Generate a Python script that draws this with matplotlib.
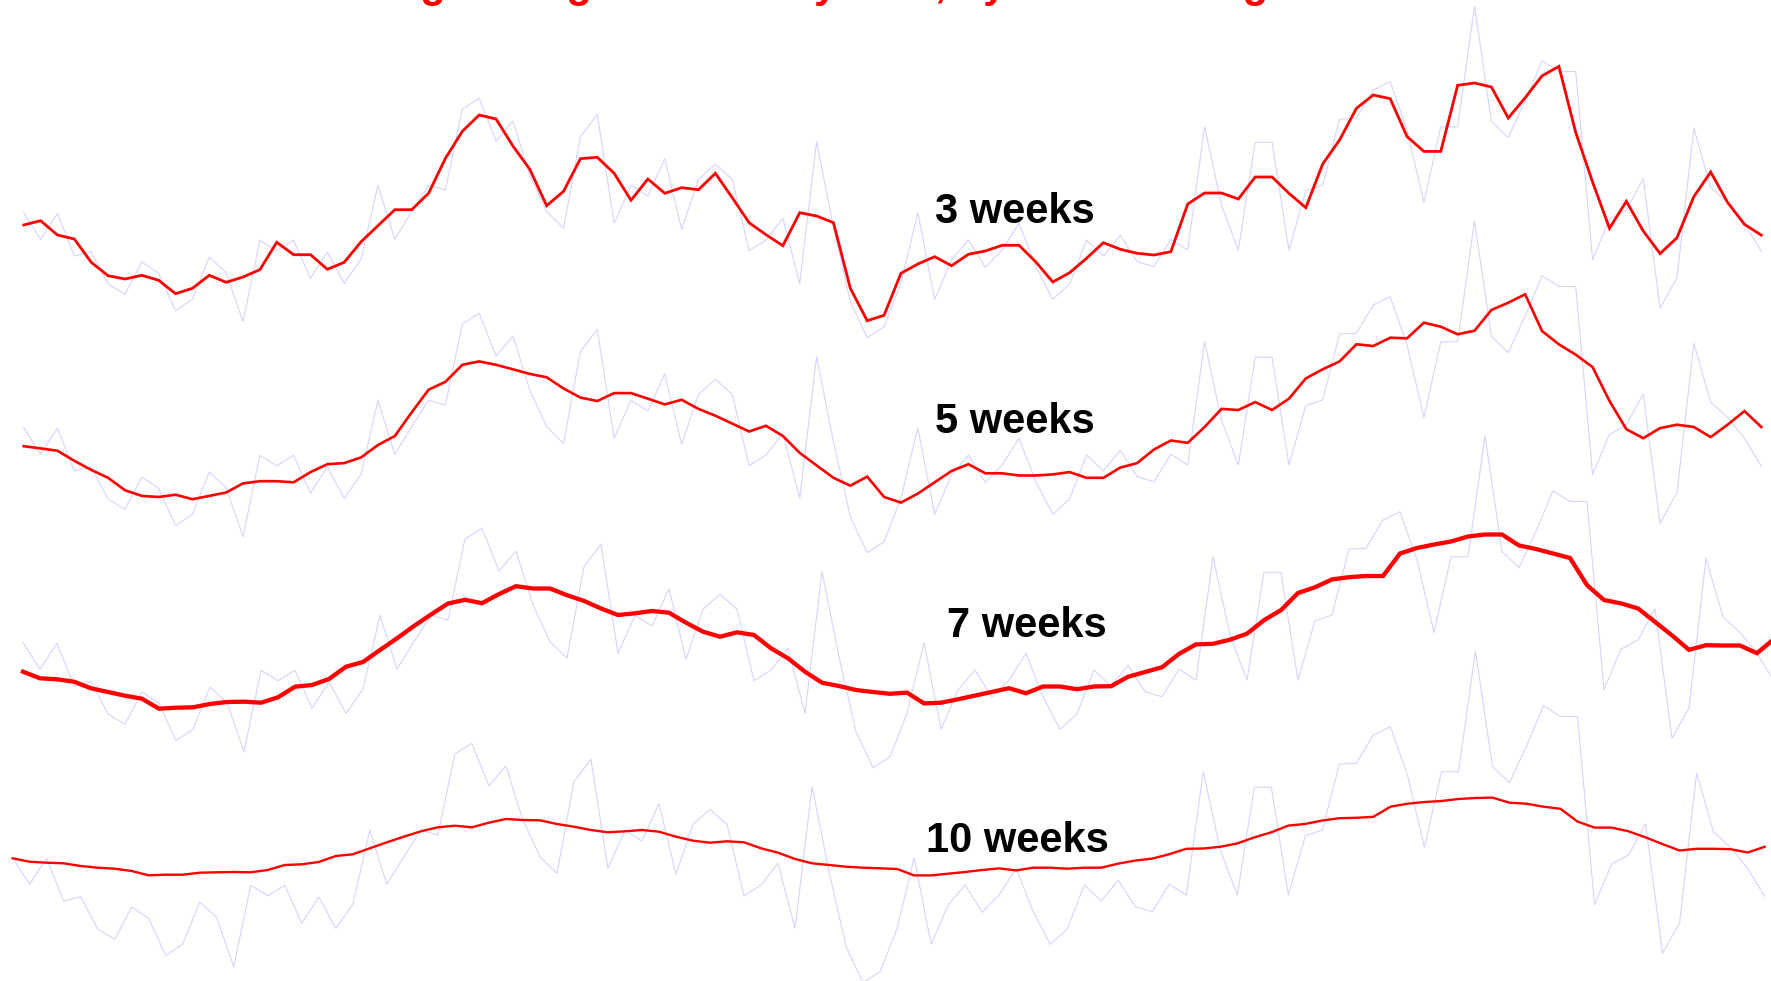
import numpy as np
import matplotlib
matplotlib.use("Agg")
import matplotlib.pyplot as plt

# weekly series (same raw data behind every panel)
weekly = [127.3, 100.7, 126.7, 84.0, 88.3, 56.0, 45.7, 78.0, 66.7, 29.3,
          40.7, 83.0, 67.3, 18.3, 99.7, 89.3, 99.7, 61.7, 88.0, 56.7,
          80.7, 154.7, 100.7, 128.3, 154.7, 150.0, 231.0, 241.7, 199.0, 219.0,
          165.0, 128.3, 111.7, 203.3, 225.7, 116.7, 154.7, 144.0, 181.3, 110.7,
          160.7, 175.7, 160.7, 89.3, 100.0, 121.7, 56.7, 198.3, 113.3, 38.3,
          2.3, 13.3, 56.7, 127.3, 40.7, 80.0, 100.0, 72.7, 90.0, 116.7,
          73.3, 40.7, 56.0, 100.0, 84.0, 104.7, 78.3, 73.3, 100.7, 90.0,
          213.3, 135.0, 90.0, 197.7, 197.7, 90.0, 149.3, 155.0, 221.0, 221.7,
          250.0, 258.3, 210.0, 137.6, 213.2, 213.2, 333.9, 218.6, 202.4, 238.8,
          279.3, 268.5, 268.5, 80.3, 120.8, 129.9, 161.2, 31.7, 62.1, 211.8,
          152.8, 137.6, 116.7, 88.7]

ma3 = [115.0, 119.3, 105.0, 101.0, 77.7, 64.3, 61.0, 64.7, 59.7, 46.3,
       51.7, 64.7, 57.7, 63.0, 70.3, 97.7, 85.3, 85.3, 70.7, 77.7,
       98.3, 114.3, 130.3, 130.3, 146.7, 181.7, 208.7, 225.0, 221.0, 194.0,
       170.7, 134.3, 148.7, 181.3, 182.7, 166.7, 139.7, 161.0, 146.7, 152.3,
       150.3, 166.7, 142.3, 117.3, 105.3, 94.3, 127.3, 124.0, 117.3, 51.7,
       19.3, 24.7, 66.7, 76.0, 83.3, 74.3, 85.7, 89.0, 94.7, 94.7,
       78.0, 58.0, 67.3, 81.7, 97.3, 90.7, 86.7, 85.0, 88.3, 136.0,
       147.0, 147.0, 141.0, 163.0, 163.0, 146.7, 132.3, 176.0, 200.0, 231.7,
       245.0, 241.3, 203.4, 188.6, 188.6, 254.7, 257.0, 253.0, 222.0, 242.2,
       264.1, 273.6, 207.5, 157.9, 111.7, 138.7, 109.0, 86.4, 102.2, 143.4,
       168.0, 137.6, 115.7, 104.9]

ma5 = [108.8, 106.6, 104.3, 94.2, 85.1, 77.2, 64.8, 59.1, 58.0, 60.3,
       55.8, 59.1, 62.5, 71.6, 73.8, 73.8, 72.7, 82.9, 90.8, 91.9,
       97.6, 110.0, 119.0, 142.7, 165.3, 173.2, 190.2, 193.6, 190.2, 185.7,
       181.1, 177.7, 166.5, 157.4, 154.0, 161.9, 161.9, 156.3, 150.6, 155.2,
       146.1, 139.3, 131.4, 123.5, 129.2, 119.0, 102.1, 89.6, 77.2, 69.3,
       78.4, 58.0, 52.4, 61.4, 72.7, 84.0, 90.8, 81.7, 81.7, 79.5,
       79.5, 80.6, 82.9, 77.2, 77.2, 87.4, 91.9, 105.5, 114.5, 112.2,
       128.0, 146.1, 145.0, 152.9, 145.0, 156.3, 176.6, 185.7, 193.6, 210.7,
       209.0, 217.3, 216.7, 232.3, 228.3, 220.7, 224.3, 245.0, 252.3, 260.7,
       224.0, 210.7, 200.3, 187.9, 154.0, 125.8, 116.8, 126.9, 130.3, 128.0,
       117.9, 130.3, 143.9, 128.0]

ma7 = [98.3, 91.7, 90.7, 88.3, 81.7, 78.0, 74.3, 71.3, 61.3, 62.3,
       62.7, 66.0, 68.0, 68.3, 67.3, 72.7, 83.3, 85.0, 91.0, 103.3,
       108.0, 120.0, 131.7, 144.0, 155.5, 166.5, 170.2, 166.8, 175.9, 183.8,
       181.5, 181.5, 174.8, 169.1, 161.5, 155.0, 156.7, 159.0, 157.3, 147.3,
       138.3, 133.3, 137.7, 135.0, 121.7, 111.7, 98.3, 87.3, 84.0, 80.0,
       78.0, 76.2, 77.4, 66.6, 67.3, 70.7, 74.4, 78.1, 81.8, 76.7,
       83.5, 83.5, 80.8, 83.5, 83.8, 93.2, 98.0, 102.7, 116.1, 125.6,
       126.2, 130.3, 136.3, 149.8, 159.9, 177.0, 182.7, 190.6, 192.8, 194.0,
       194.0, 216.5, 222.0, 225.5, 228.5, 233.5, 235.5, 235.5, 224.5, 221.0,
       216.5, 212.0, 184.9, 170.0, 166.6, 161.6, 148.1, 134.6, 120.2, 124.8,
       124.5, 124.5, 116.8, 131.0]

ma10 = [126.7, 123.3, 122.3, 121.7, 119.0, 117.3, 116.3, 114.0, 109.7, 110.3,
        110.3, 112.3, 112.7, 113.0, 112.7, 115.0, 120.0, 120.7, 123.0, 129.0,
        130.7, 136.7, 142.7, 148.3, 153.7, 157.7, 159.3, 157.7, 162.3, 166.0,
        165.0, 164.7, 161.0, 158.3, 155.0, 152.7, 153.7, 155.0, 153.3, 148.3,
        144.3, 142.3, 143.7, 142.7, 136.7, 132.3, 126.0, 121.7, 120.0, 118.3,
        117.3, 116.7, 116.0, 109.6, 109.6, 111.3, 113.0, 115.0, 116.6, 114.6,
        117.3, 117.3, 116.3, 117.3, 117.3, 121.4, 124.4, 126.4, 130.8, 136.2,
        136.5, 138.2, 141.6, 147.6, 152.7, 159.4, 161.1, 164.5, 166.8, 167.2,
        168.2, 178.3, 181.3, 183.0, 184.0, 186.0, 187.0, 187.4, 182.3, 181.3,
        178.3, 176.2, 163.4, 157.4, 157.4, 153.7, 147.6, 140.9, 134.5, 136.2,
        136.2, 135.8, 132.5, 138.2]

labels = ["3 weeks", "5 weeks", "7 weeks", "10 weeks"]
averages = [ma3, ma5, ma7, ma10]

W, H = 1771, 981
fig = plt.figure(figsize=(W / 100, H / 100), dpi=100)
fig.patch.set_facecolor("white")

# each panel is a pasted strip: own x start / step (pixels) and 215 px drop
x_start = [23.7, 23.7, 23.0, 12.6]
x_step = [16.87, 16.87, 17.0, 17.01]
red_width = [2.0, 1.9, 3.1, 1.7]
label_pos = [(935, 223), (935, 433), (947, 637), (926, 852)]

weeks = np.arange(len(weekly))


def panel_axes(k):
    ax = fig.add_axes([0, 0, 1, 1])
    ax.set_xlim(-x_start[k] / x_step[k], (W - x_start[k]) / x_step[k])
    ax.set_ylim(215 * k - 641, 215 * k + 340)
    ax.axis("off")
    ax.patch.set_alpha(0)
    return ax


# faint raw data first, so every red curve sits on top
for k in range(4):
    ax = panel_axes(k)
    ax.plot(weeks, weekly, color="#d4d4ff", lw=0.8)

for k in range(4):
    ax = panel_axes(k)
    ax.plot(weeks, averages[k], color="red", lw=red_width[k],
            solid_joinstyle="miter")
    lx, ly = label_pos[k]
    fig.text(lx / W, 1 - ly / H, labels[k], fontsize=30, fontweight="bold",
             family="Liberation Sans", color="black", va="baseline", ha="left")

# title sits mostly above the cropped top edge, as in the source slide
fig.text(300 / W, 1 + 3 / H, "Moving averages of weekly data, by window length",
         fontsize=30, fontweight="bold", family="Liberation Sans",
         color="red", va="baseline", ha="left")

fig.savefig("out.png", dpi=100)
